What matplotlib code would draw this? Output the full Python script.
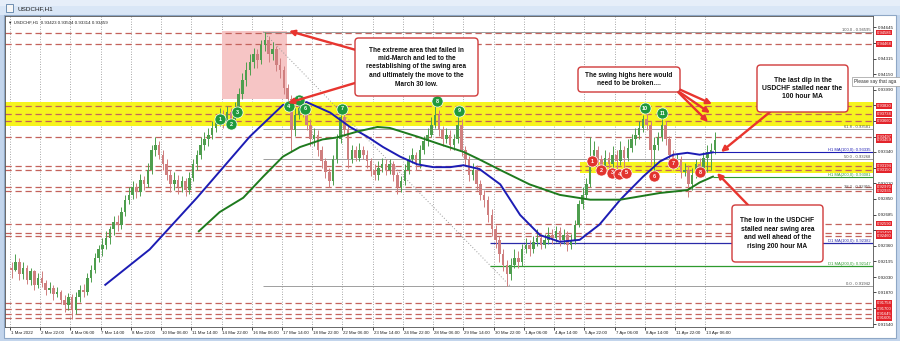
import matplotlib
matplotlib.use('Agg')
import matplotlib.pyplot as plt
import matplotlib.transforms as mtransforms
from matplotlib.patches import Rectangle, FancyBboxPatch

plt.rcParams['font.family'] = ['Liberation Sans', 'DejaVu Sans']

# ---------------- data ----------------
tick_bars = [0, 32, 64, 96, 128, 160, 192, 224, 256, 288, 320, 352, 384, 416,
             448, 480, 512, 544, 576, 608, 640, 672, 704, 736]
tick_labels = ['1 Mar 2022', '2 Mar 22:00', '4 Mar 06:00', '7 Mar 14:00', '8 Mar 22:00',
               '10 Mar 06:00', '11 Mar 14:00', '14 Mar 22:00', '16 Mar 06:00', '17 Mar 14:00',
               '18 Mar 22:00', '22 Mar 06:00', '23 Mar 14:00', '24 Mar 22:00', '28 Mar 06:00',
               '29 Mar 14:00', '30 Mar 22:00', '1 Apr 06:00', '4 Apr 14:00', '5 Apr 22:00',
               '7 Apr 06:00', '8 Apr 14:00', '11 Apr 22:00', '13 Apr 06:00']

price_tick_values = [0.94645, 0.94480, 0.94315, 0.94150, 0.93990, 0.93825, 0.93665, 0.93500,
                     0.93340, 0.93175, 0.93010, 0.92850, 0.92685, 0.92520, 0.92360, 0.92195,
                     0.92030, 0.91870, 0.91705, 0.91540]

first_open = 0.9213
closes = [0.9211, 0.9219, 0.9206, 0.9213, 0.9200, 0.9209, 0.9195, 0.9202, 0.9197, 0.9190,
          0.9192, 0.9185, 0.9188, 0.9179, 0.9174, 0.9182, 0.9169, 0.9182, 0.9190, 0.9188,
          0.9202, 0.9211, 0.9223, 0.9232, 0.9237, 0.9244, 0.9253, 0.9261, 0.9258, 0.9271,
          0.9284, 0.9289, 0.9297, 0.9292, 0.9305, 0.9300, 0.9315, 0.9336, 0.9341, 0.9331,
          0.9321, 0.9310, 0.9300, 0.9305, 0.9297, 0.9303, 0.9294, 0.9307, 0.9321, 0.9331,
          0.9341, 0.9347, 0.9352, 0.9359, 0.9366, 0.9373, 0.9366, 0.9376, 0.9368, 0.9380,
          0.9394, 0.9409, 0.9420, 0.9428, 0.9436, 0.9430, 0.9446, 0.9451, 0.9436, 0.9441,
          0.9425, 0.9420, 0.9401, 0.9389, 0.9357, 0.9373, 0.9380, 0.9376, 0.9362, 0.9347,
          0.9352, 0.9336, 0.9324, 0.9313, 0.9303, 0.9326, 0.9347, 0.9370, 0.9357, 0.9326,
          0.9336, 0.9328, 0.9336, 0.9331, 0.9324, 0.9315, 0.9310, 0.9317, 0.9321, 0.9315,
          0.9321, 0.9310, 0.9297, 0.9303, 0.9315, 0.9326, 0.9331, 0.9321, 0.9336, 0.9345,
          0.9352, 0.9362, 0.9373, 0.9357, 0.9347, 0.9352, 0.9341, 0.9347, 0.9362, 0.9336,
          0.9326, 0.9310, 0.9315, 0.9300, 0.9289, 0.9284, 0.9268, 0.9253, 0.9242, 0.9227,
          0.9216, 0.9206, 0.9216, 0.9223, 0.9219, 0.9232, 0.9237, 0.9232, 0.9240, 0.9244,
          0.9237, 0.9242, 0.9247, 0.9244, 0.9251, 0.9242, 0.9247, 0.9237, 0.9242, 0.9258,
          0.9279, 0.9289, 0.9300, 0.9326, 0.9336, 0.9326, 0.9317, 0.9328, 0.9321, 0.9331,
          0.9324, 0.9336, 0.9328, 0.9338, 0.9347, 0.9352, 0.9359, 0.9368, 0.9362, 0.9336,
          0.9341, 0.9349, 0.9362, 0.9347, 0.9331, 0.9321, 0.9326, 0.9313, 0.9315, 0.9300,
          0.9310, 0.9321, 0.9315, 0.9328, 0.9334, 0.9336, 0.9346]
highs = [0.9219, 0.9227, 0.9223, 0.9219, 0.9216, 0.9213, 0.9211, 0.9207, 0.9209, 0.9200,
         0.9198, 0.9195, 0.9193, 0.9190, 0.9184, 0.9186, 0.9185, 0.9188, 0.9195, 0.9196,
         0.9207, 0.9216, 0.9228, 0.9237, 0.9244, 0.9251, 0.9257, 0.9267, 0.9268, 0.9276,
         0.9289, 0.9297, 0.9303, 0.9301, 0.9311, 0.9309, 0.9322, 0.9341, 0.9349, 0.9345,
         0.9336, 0.9326, 0.9315, 0.9313, 0.9310, 0.9309, 0.9307, 0.9313, 0.9326, 0.9336,
         0.9349, 0.9355, 0.9359, 0.9366, 0.9372, 0.9380, 0.9378, 0.9382, 0.9380, 0.9386,
         0.9401, 0.9416, 0.9428, 0.9436, 0.9443, 0.9441, 0.9451, 0.9459, 0.9455, 0.9449,
         0.9445, 0.9432, 0.9424, 0.9405, 0.9393, 0.9380, 0.9389, 0.9386, 0.9380, 0.9368,
         0.9359, 0.9357, 0.9340, 0.9328, 0.9317, 0.9331, 0.9353, 0.9378, 0.9374, 0.9361,
         0.9341, 0.9340, 0.9343, 0.9340, 0.9336, 0.9328, 0.9321, 0.9324, 0.9328, 0.9326,
         0.9326, 0.9324, 0.9313, 0.9309, 0.9321, 0.9331, 0.9338, 0.9334, 0.9341, 0.9351,
         0.9359, 0.9370, 0.9385, 0.9378, 0.9361, 0.9359, 0.9357, 0.9353, 0.9378, 0.9368,
         0.9340, 0.9330, 0.9322, 0.9320, 0.9305, 0.9294, 0.9288, 0.9274, 0.9258, 0.9246,
         0.9232, 0.9221, 0.9223, 0.9232, 0.9230, 0.9238, 0.9244, 0.9242, 0.9246, 0.9253,
         0.9248, 0.9248, 0.9255, 0.9253, 0.9257, 0.9255, 0.9253, 0.9251, 0.9248, 0.9263,
         0.9284, 0.9297, 0.9307, 0.9350, 0.9345, 0.9340, 0.9331, 0.9336, 0.9334, 0.9340,
         0.9336, 0.9345, 0.9340, 0.9347, 0.9353, 0.9359, 0.9366, 0.9373, 0.9378, 0.9366,
         0.9349, 0.9355, 0.9373, 0.9366, 0.9351, 0.9336, 0.9332, 0.9330, 0.9322, 0.9320,
         0.9317, 0.9326, 0.9328, 0.9334, 0.9341, 0.9343, 0.9355]
lows = [0.9202, 0.9209, 0.9200, 0.9201, 0.9196, 0.9195, 0.9190, 0.9192, 0.9193, 0.9184,
        0.9186, 0.9179, 0.9182, 0.9175, 0.9167, 0.9169, 0.9159, 0.9165, 0.9177, 0.9182,
        0.9184, 0.9198, 0.9207, 0.9219, 0.9225, 0.9232, 0.9238, 0.9247, 0.9251, 0.9253,
        0.9267, 0.9279, 0.9285, 0.9286, 0.9288, 0.9294, 0.9297, 0.9311, 0.9330, 0.9326,
        0.9315, 0.9305, 0.9292, 0.9294, 0.9290, 0.9292, 0.9288, 0.9290, 0.9303, 0.9315,
        0.9326, 0.9336, 0.9340, 0.9347, 0.9355, 0.9361, 0.9359, 0.9361, 0.9361, 0.9363,
        0.9376, 0.9389, 0.9403, 0.9414, 0.9422, 0.9422, 0.9426, 0.9439, 0.9428, 0.9430,
        0.9418, 0.9411, 0.9394, 0.9382, 0.9334, 0.9351, 0.9368, 0.9370, 0.9357, 0.9340,
        0.9340, 0.9330, 0.9317, 0.9307, 0.9297, 0.9299, 0.9322, 0.9343, 0.9351, 0.9317,
        0.9322, 0.9324, 0.9324, 0.9326, 0.9317, 0.9309, 0.9305, 0.9305, 0.9313, 0.9310,
        0.9311, 0.9303, 0.9290, 0.9292, 0.9299, 0.9311, 0.9322, 0.9315, 0.9317, 0.9332,
        0.9340, 0.9349, 0.9359, 0.9351, 0.9340, 0.9343, 0.9336, 0.9336, 0.9343, 0.9330,
        0.9320, 0.9303, 0.9305, 0.9294, 0.9284, 0.9276, 0.9261, 0.9246, 0.9234, 0.9219,
        0.9209, 0.9194, 0.9200, 0.9213, 0.9213, 0.9215, 0.9228, 0.9225, 0.9228, 0.9236,
        0.9232, 0.9234, 0.9238, 0.9238, 0.9240, 0.9236, 0.9238, 0.9230, 0.9232, 0.9238,
        0.9255, 0.9274, 0.9286, 0.9297, 0.9322, 0.9320, 0.9311, 0.9313, 0.9315, 0.9315,
        0.9313, 0.9320, 0.9312, 0.9324, 0.9334, 0.9341, 0.9347, 0.9355, 0.9357, 0.9320,
        0.9309, 0.9336, 0.9345, 0.9341, 0.9326, 0.9315, 0.9317, 0.9307, 0.9309, 0.9287,
        0.9294, 0.9307, 0.9309, 0.9311, 0.9313, 0.9315, 0.9332]
bars_per_candle = 4

ma100_bars = [101, 148, 198, 233, 254, 289, 314, 339, 360, 378, 395, 413, 431, 448, 466,
              480, 497, 519, 540, 561, 582, 603, 624, 646, 670, 688, 702, 717, 730, 744]
ma100_vals = [0.9195, 0.9232, 0.9286, 0.9326, 0.9350, 0.9383, 0.9386, 0.9375, 0.9360, 0.9350,
              0.9339, 0.9329, 0.9321, 0.9318, 0.9318, 0.9320, 0.9316, 0.9300, 0.9268, 0.9247,
              0.9240, 0.9242, 0.9258, 0.9284, 0.9308, 0.9324, 0.9331, 0.9333, 0.9331, 0.93335]
ma200_bars = [200, 222, 247, 268, 289, 307, 331, 346, 367, 389, 402, 431, 458, 480, 497,
              519, 550, 582, 614, 646, 688, 717, 730, 744]
ma200_vals = [0.9251, 0.9271, 0.9286, 0.9308, 0.9329, 0.9339, 0.9347, 0.9349, 0.9355, 0.9360,
              0.9359, 0.9350, 0.9341, 0.9334, 0.9326, 0.9315, 0.9300, 0.9289, 0.9284, 0.9284,
              0.9291, 0.9294, 0.9302, 0.93081]
ma100_last, ma200_last = 0.93335, 0.93081
d1_ma100, d1_ma200 = 0.92382, 0.92147

fib_levels = [100.0, 61.8, 50.0, 38.2, 0.0]
fib_prices = [0.94595, 0.93581, 0.93268, 0.92955, 0.91942]
fib_start_bar, fib_end_bar = 268, 529

level_prices = [0.94586, 0.94468, 0.93820, 0.93734, 0.93660, 0.93497, 0.93194, 0.93150,
                0.92970, 0.92935, 0.92590, 0.92490, 0.92460, 0.91758, 0.91700, 0.91645, 0.91605]
current_price = 0.93459

upper_zone = (0.93610, 0.93860)
lower_zone = (0.93120, 0.93230)
lower_zone_start = 603
extreme_box = (225, 293, 0.93890, 0.94600)

green_marks_bar = [222.4, 234.1, 240.4, 295.4, 306.0, 312.4, 351.5, 452.1, 475.3, 672.2, 690.2]
green_marks_val = [0.93683, 0.93631, 0.93756, 0.93819, 0.93882, 0.93788, 0.93788, 0.93871,
                   0.93767, 0.93798, 0.93746]
red_marks_bar = [616.1, 625.6, 637.2, 644.7, 652.1, 681.8, 701.9, 730.5]
red_marks_val = [0.93244, 0.93150, 0.93119, 0.93108, 0.93119, 0.93087, 0.93223, 0.93129]

# ---------------- figure ----------------
W, H = 900, 341
fig = plt.figure(figsize=(W / 100, H / 100), dpi=100)
fig.patch.set_facecolor('#c3d5ec')


def F(x, y):
    return (x / W, 1 - y / H)


def frect(x0, y0, x1, y1, **kw):
    r = Rectangle(F(x0, y1), (x1 - x0) / W, (y1 - y0) / H, transform=fig.transFigure, **kw)
    fig.add_artist(r)
    return r


frect(0, 0, 900, 15, fc='#d9e6f6', ec='none', zorder=0)
frect(0, 0, 900, 6, fc='#e6eef9', ec='none', zorder=0)
frect(4, 15, 896, 338, fc='white', ec='#8ea7c6', lw=0.8, zorder=0)
frect(6, 4, 13, 12, fc='#f6f6f6', ec='#5b7fa6', lw=0.6, zorder=1)
fig.text(*F(17, 8.5), 'USDCHF,H1', fontsize=4.6, va='center', ha='left', color='#1a1a1a')

ax = fig.add_axes([5 / W, 1 - 327 / H, (873 - 5) / W, (327 - 16) / H])
XMIN, XMAX = -5.1, 913.4
ax.set_xlim(XMIN, XMAX)
ax.set_ylim(0.91509, 0.94760)
ax.set_facecolor('white')
for s in ax.spines.values():
    s.set_color('#505050')
    s.set_linewidth(0.6)

red_label_prices = level_prices + [current_price]
price_tick_labels = []
for v in price_tick_values:
    covered = any(abs(v - p) < 0.00035 for p in red_label_prices)
    price_tick_labels.append('' if covered else '%.5f' % v)

ax.yaxis.tick_right()
ax.set_yticks(price_tick_values)
ax.set_yticklabels(price_tick_labels, fontsize=3.2, color='#202020')
ax.tick_params(axis='y', length=2, width=0.5, pad=1.5)
ax.set_xticks(tick_bars)
ax.set_xticklabels([])
ax.tick_params(axis='x', length=2, width=0.5)

bt = mtransforms.blended_transform_factory(ax.transData, ax.transAxes)
for b, lab in zip(tick_bars, tick_labels):
    ax.text(b + 1, -0.012, lab, transform=bt, fontsize=3.2, va='top', ha='left', color='#202020')

# grid
ax.vlines(tick_bars, 0.91509, 0.94760, colors='#8a8a8a', linestyles=(0, (1, 2)), lw=0.6, zorder=1)

# zones
ax.axhspan(upper_zone[0], upper_zone[1], color='#f6f41e', zorder=1.2, lw=0)
ax.fill_between([lower_zone_start, XMAX], lower_zone[0], lower_zone[1], color='#f6f41e',
                zorder=1.2, lw=0)
ax.add_patch(Rectangle((extreme_box[0], extreme_box[2]), extreme_box[1] - extreme_box[0],
                       extreme_box[3] - extreme_box[2], fc='#f6c5c5', ec='none', zorder=1.1))

# dashed levels
ax.hlines(level_prices, XMIN, XMAX, colors='#c4625c', linestyles=(0, (5, 3)), lw=0.9, zorder=1.5)

# fib
ax.hlines(fib_prices, fib_start_bar, XMAX, colors='#8f8f8f', lw=0.6, zorder=1.6)
ax.plot([fib_start_bar, fib_end_bar], [fib_prices[0], fib_prices[-1]], ls=(0, (1, 2)),
        color='#9a9a9a', lw=0.7, zorder=1.6)
at = mtransforms.blended_transform_factory(ax.transAxes, ax.transData)
for lv, p in zip(fib_levels, fib_prices):
    ax.text(0.997, p, '%.1f - %.5f' % (lv, p), transform=at, fontsize=3.0, ha='right',
            va='bottom', color='#505050', zorder=5)

# D1 MAs
ax.hlines([d1_ma100], 508, XMAX, colors='#2a2aa8', lw=0.9, zorder=1.7)
ax.hlines([d1_ma200], 508, XMAX, colors='#2e9a2e', lw=0.9, zorder=1.7)
ax.text(0.997, d1_ma100, 'D1 MA(100,0): %.5f' % d1_ma100, transform=at, fontsize=3.0,
        ha='right', va='bottom', color='#2a2aa8', zorder=5)
ax.text(0.997, d1_ma200, 'D1 MA(200,0): %.5f' % d1_ma200, transform=at, fontsize=3.0,
        ha='right', va='bottom', color='#2e9a2e', zorder=5)

# candles
bull, bear = '#4e9e4e', '#cf7f7f'
opens = [first_open] + closes[:-1]
for i, (o, h, l, c) in enumerate(zip(opens, highs, lows, closes)):
    x = bars_per_candle * i + 2
    col = bull if c >= o else bear
    ax.vlines(x, l, h, colors=col, lw=0.7, zorder=2)
    ax.bar(x, max(abs(c - o), 0.00003), bottom=min(o, c), width=2.7, color=col, lw=0, zorder=2)

# H1 MAs
ax.plot(ma100_bars, ma100_vals, color='#1c1cb4', lw=1.4, zorder=3)
ax.plot(ma200_bars, ma200_vals, color='#1e7a1e', lw=1.4, zorder=3)
ax.hlines([ma100_last], ma100_bars[-1], XMAX, colors='#1c1cb4', lw=0.8, zorder=3)
ax.hlines([ma200_last], ma200_bars[-1], XMAX, colors='#2e9a2e', lw=0.8, zorder=3)
ax.text(0.997, ma100_last, 'H1 MA(100,0): %.5f' % ma100_last, transform=at, fontsize=3.0,
        ha='right', va='bottom', color='#1c1cb4', zorder=5)
ax.text(0.997, ma200_last, 'H1 MA(200,0): %.5f' % ma200_last, transform=at, fontsize=3.0,
        ha='right', va='bottom', color='#2e9a2e', zorder=5)

# right red price labels
for p in red_label_prices:
    ax.text(1.004, p, '%.5f' % p, transform=at, fontsize=3.0, ha='left', va='center',
            color='white', zorder=6, clip_on=False,
            bbox=dict(boxstyle='square,pad=0.2', fc='#e3242b', ec='none'))

# numbered marks
ax.scatter(green_marks_bar, green_marks_val, s=64, c='#1f9a3c', edgecolors='white',
           linewidths=0.5, zorder=7)
for i, (b, p) in enumerate(zip(green_marks_bar, green_marks_val)):
    ax.text(b, p, str(i + 1), fontsize=4.0, color='white', ha='center', va='center',
            fontweight='bold', zorder=8)
ax.scatter(red_marks_bar, red_marks_val, s=64, c='#e2342f', edgecolors='white',
           linewidths=0.5, zorder=7)
for i, (b, p) in enumerate(zip(red_marks_bar, red_marks_val)):
    ax.text(b, p, str(i + 1), fontsize=4.0, color='white', ha='center', va='center',
            fontweight='bold', zorder=8)

# info line
ax.text(0.004, 0.985, '\u25bc USDCHF,H1  0.93423 0.93504 0.93314 0.93459', transform=ax.transAxes,
        fontsize=3.2, ha='left', va='top', color='#202020', zorder=6)


# annotation boxes
def tbox(x0, y0, x1, y1, text, fs=4.7):
    p = FancyBboxPatch(F(x0, y1), (x1 - x0) / W, (y1 - y0) / H,
                       boxstyle='round,pad=0,rounding_size=0.004', transform=fig.transFigure,
                       fc='white', ec='#d03a3a', lw=1.0, zorder=20, mutation_aspect=W / H)
    fig.add_artist(p)
    fig.text(*F((x0 + x1) / 2, (y0 + y1) / 2), text, ha='center', va='center', fontsize=fs,
             fontweight='bold', linespacing=1.3, color='#111111', zorder=21)


def arrow(x1, y1, x2, y2):
    ax.annotate('', xy=F(x2, y2), xytext=F(x1, y1), xycoords='figure fraction',
                textcoords='figure fraction', annotation_clip=False, zorder=19,
                arrowprops=dict(arrowstyle='-|>', color='#e8352f', lw=1.7, mutation_scale=8,
                                shrinkA=0, shrinkB=0))


tbox(355, 38, 478, 96, 'The extreme area that failed in\nmid-March and led to the\n'
     'reestablishing of the swing area\nand ultimately the move to the\nMarch 30 low.')
tbox(578, 67, 680, 92, 'The swing highs here would\nneed to be broken....')
tbox(757, 65, 848, 112, 'The last dip in the\nUSDCHF stalled near the\n100 hour MA', fs=4.9)
tbox(732, 205, 823, 262, 'The low in the USDCHF\nstalled near swing area\nand well ahead of the\n'
     'rising 200 hour MA', fs=4.8)

arrow(356, 50, 289, 31)
arrow(355, 83, 288, 103)
arrow(672, 86, 712, 104)
arrow(675, 89, 710, 113)
arrow(678, 92, 708, 122)
arrow(770, 112, 721, 152)
arrow(748, 205, 717, 173)

# tooltip
frect(852, 77, 900, 86, fc='white', ec='#9a9a9a', lw=0.5, zorder=22)
fig.text(*F(854, 81.5), 'Please say that aga', fontsize=3.4, ha='left', va='center',
         color='#303030', zorder=23)

fig.savefig('out.png', dpi=100)
